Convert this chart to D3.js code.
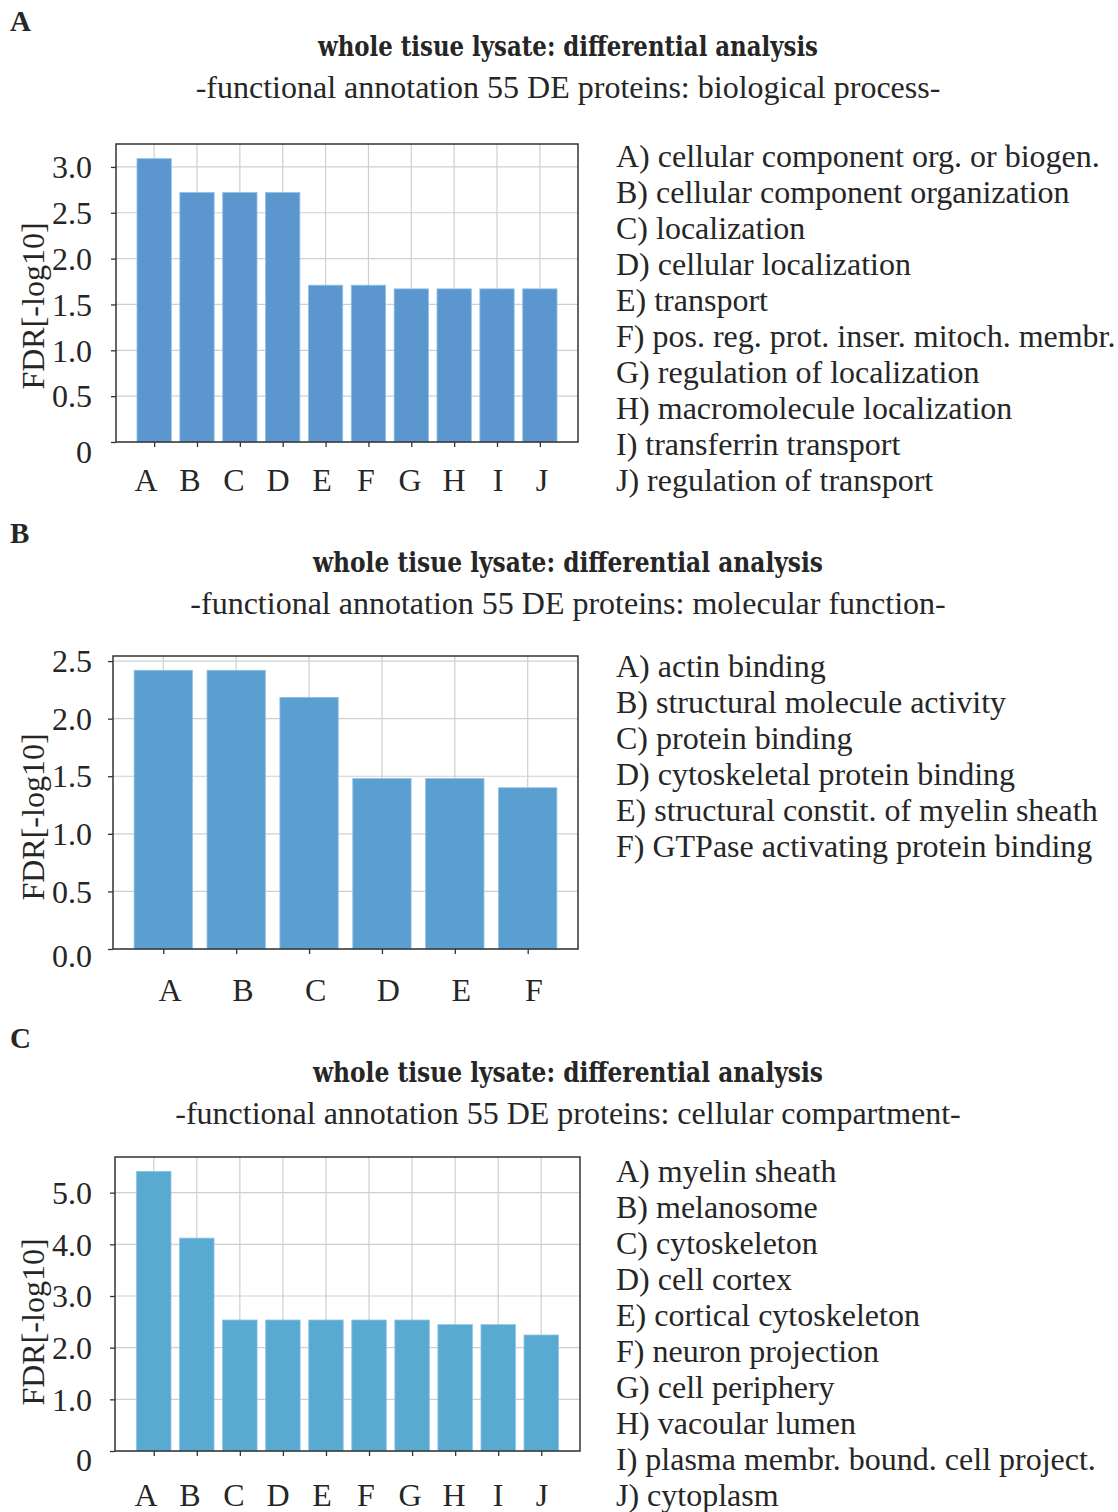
<!DOCTYPE html>
<html>
<head>
<meta charset="utf-8">
<script src="https://cdn.jsdelivr.net/npm/d3@7"></script>
<style>
body { margin: 0; background: #fff; }
text { font-family: "Liberation Serif", "Times New Roman", serif; fill: #262626; }
</style>
</head>
<body>
<script>
// ---- data ----
var titleMain = "whole tisue lysate: differential analysis";

var catsA   = ["A", "B", "C", "D", "E", "F", "G", "H", "I", "J"];
var valsA   = [3.09, 2.72, 2.72, 2.72, 1.71, 1.71, 1.67, 1.67, 1.67, 1.67];
var termsA  = ["cellular component org. or biogen.", "cellular component organization",
               "localization", "cellular localization", "transport",
               "pos. reg. prot. inser. mitoch. membr.", "regulation of localization",
               "macromolecule localization", "transferrin transport", "regulation of transport"];
var ticksA  = [0, 0.5, 1.0, 1.5, 2.0, 2.5, 3.0];
var tickLabA = ["0", "0.5", "1.0", "1.5", "2.0", "2.5", "3.0"];

var catsB   = ["A", "B", "C", "D", "E", "F"];
var valsB   = [2.42, 2.42, 2.185, 1.48, 1.48, 1.40];
var termsB  = ["actin binding", "structural molecule activity", "protein binding",
               "cytoskeletal protein binding", "structural constit. of myelin sheath",
               "GTPase activating protein binding"];
var ticksB  = [0, 0.5, 1.0, 1.5, 2.0, 2.5];
var tickLabB = ["0.0", "0.5", "1.0", "1.5", "2.0", "2.5"];

var catsC   = ["A", "B", "C", "D", "E", "F", "G", "H", "I", "J"];
var valsC   = [5.41, 4.12, 2.535, 2.535, 2.535, 2.535, 2.535, 2.445, 2.445, 2.245];
var termsC  = ["myelin sheath", "melanosome", "cytoskeleton", "cell cortex",
               "cortical cytoskeleton", "neuron projection", "cell periphery",
               "vacoular lumen", "plasma membr. bound. cell project.", "cytoplasm"];
var ticksC  = [0, 1.0, 2.0, 3.0, 4.0, 5.0];
var tickLabC = ["0", "1.0", "2.0", "3.0", "4.0", "5.0"];

var subA = "-functional annotation 55 DE proteins: biological process-";
var subB = "-functional annotation 55 DE proteins: molecular function-";
var subC = "-functional annotation 55 DE proteins: cellular compartment-";

// ---- layout ----
var svg = d3.select("body").append("svg")
    .attr("width", 1118)
    .attr("height", 1512);

var panels = [
  {letter: "A", top: 0, titleTop: 0, titleW: 500, cats: catsA, vals: valsA, terms: termsA, ticks: ticksA, tickLab: tickLabA, sub: subA,
   x0: 116, x1: 578, y0: 144, y1: 442, ymax: 3.25, pad: 0.89, color: "#5b96cf",
   labX: [146, 542], labY: 491, yLabC: 306, zeroDy: 10, legY: 167},
  {letter: "B", top: 512, titleTop: 516, titleW: 510, cats: catsB, vals: valsB, terms: termsB, ticks: ticksB, tickLab: tickLabB, sub: subB,
   x0: 113, x1: 578, y0: 656, y1: 949, ymax: 2.544, pad: 0.69, color: "#5a9fd0",
   labX: [170, 534], labY: 1001, yLabC: 817, zeroDy: 7, legY: 677},
  {letter: "C", top: 1017, titleTop: 1026, titleW: 510, cats: catsC, vals: valsC, terms: termsC, ticks: ticksC, tickLab: tickLabC, sub: subC,
   x0: 115, x1: 580, y0: 1157, y1: 1451, ymax: 5.69, pad: 0.9, color: "#59aad0",
   labX: [146, 542], labY: 1506, yLabC: 1322, zeroDy: 9, legY: 1182}
];

panels.forEach(function(p) {
  var n = p.cats.length;
  var g = svg.append("g");

  // panel letter, title, subtitle
  g.append("text")
      .attr("x", 10).attr("y", p.top + 31)
      .style("font-weight", "bold").style("font-size", "29px")
      .text(p.letter);

  g.append("text")
      .attr("x", 568).attr("y", p.titleTop + 56)
      .attr("text-anchor", "middle")
      .attr("textLength", p.titleW).attr("lengthAdjust", "spacingAndGlyphs")
      .style("font-family", "'DejaVu Serif Condensed', 'DejaVu Serif', serif")
      .style("font-stretch", "condensed")
      .style("font-weight", "bold").style("font-size", "27px")
      .text(titleMain);

  g.append("text")
      .attr("x", 568).attr("y", p.titleTop + 98)
      .attr("text-anchor", "middle")
      .style("font-size", "32px")
      .text(p.sub);

  var x = d3.scaleLinear().domain([-p.pad, n - 1 + p.pad]).range([p.x0, p.x1]);
  var y = d3.scaleLinear().domain([0, p.ymax]).range([p.y1, p.y0]);
  var xl = d3.scalePoint().domain(p.cats).range(p.labX);
  var idx = d3.range(n);

  // grid
  g.append("g").selectAll("line.h").data(p.ticks).enter().append("line")
      .attr("x1", p.x0).attr("x2", p.x1)
      .attr("y1", function(d) { return y(d); }).attr("y2", function(d) { return y(d); })
      .attr("stroke", "#cfcfcf").attr("stroke-width", 1.2);
  g.append("g").selectAll("line.v").data(idx).enter().append("line")
      .attr("x1", function(d) { return x(d); }).attr("x2", function(d) { return x(d); })
      .attr("y1", p.y0).attr("y2", p.y1)
      .attr("stroke", "#cfcfcf").attr("stroke-width", 1.2);

  // bars
  g.append("g").selectAll("rect").data(p.vals).enter().append("rect")
      .attr("x", function(d, i) { return x(i - 0.4); })
      .attr("width", x(0.4) - x(-0.4))
      .attr("y", function(d) { return y(d); })
      .attr("height", function(d) { return y(0) - y(d); })
      .attr("fill", p.color)
      .attr("stroke", "#8cc0ea").attr("stroke-width", 0.8);

  // frame
  g.append("rect")
      .attr("x", p.x0).attr("y", p.y0)
      .attr("width", p.x1 - p.x0).attr("height", p.y1 - p.y0)
      .attr("fill", "none").attr("stroke", "#333").attr("stroke-width", 1.5);

  // y ticks
  var yAxis = d3.axisLeft(y).tickValues(p.ticks).tickSize(5).tickFormat("");
  g.append("g").attr("transform", "translate(" + p.x0 + ",0)").call(yAxis)
      .call(function(s) { s.select(".domain").remove(); s.selectAll("line").attr("stroke", "#333").attr("stroke-width", 1.3); });

  g.append("g").selectAll("text").data(p.ticks).enter().append("text")
      .attr("x", 92)
      .attr("y", function(d, i) { return y(d) + (i === 0 ? p.zeroDy : 0); })
      .attr("dy", "0.35em")
      .attr("text-anchor", "end")
      .style("font-size", "32px")
      .text(function(d, i) { return p.tickLab[i]; });

  // x ticks
  var xAxis = d3.axisBottom(x).tickValues(idx).tickSize(5).tickFormat("");
  g.append("g").attr("transform", "translate(0," + p.y1 + ")").call(xAxis)
      .call(function(s) { s.select(".domain").remove(); s.selectAll("line").attr("stroke", "#333").attr("stroke-width", 1.3); });

  g.append("g").selectAll("text").data(p.cats).enter().append("text")
      .attr("x", function(d) { return xl(d); })
      .attr("y", p.labY)
      .attr("text-anchor", "middle")
      .style("font-size", "32px")
      .text(function(d) { return d; });

  // y label
  g.append("text")
      .attr("transform", "translate(44," + p.yLabC + ") rotate(-90)")
      .attr("text-anchor", "middle")
      .style("font-size", "32px")
      .text("FDR[-log10]");

  // legend
  g.append("g").selectAll("text").data(p.terms).enter().append("text")
      .attr("x", 616)
      .attr("y", function(d, i) { return p.legY + 36 * i; })
      .style("font-size", "32px")
      .text(function(d, i) { return p.cats[i] + ") " + d; });
});
</script>
</body>
</html>
